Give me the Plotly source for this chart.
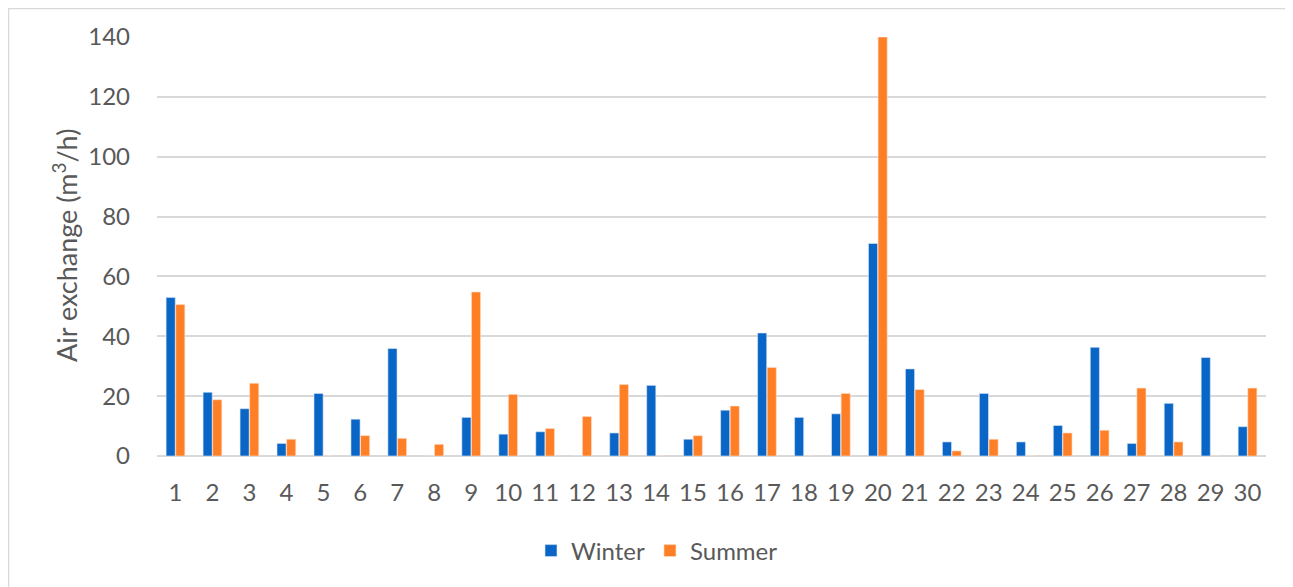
import plotly.graph_objects as go

categories = [str(i) for i in range(1, 31)]
winter = [53, 21.3, 15.8, 4.2, 20.9, 12.3, 35.9, 0, 12.9, 7.3,
          8.1, 0, 7.7, 23.6, 5.6, 15.3, 41.1, 12.9, 14.1, 71,
          29.1, 4.7, 20.9, 4.7, 10.2, 36.3, 4.2, 17.6, 32.9, 9.8]
summer = [50.6, 18.8, 24.3, 5.6, 0, 6.8, 5.9, 3.9, 54.8, 20.6,
          9.2, 13.2, 23.9, 0, 6.8, 16.7, 29.6, 0, 20.9, 140,
          22.2, 1.7, 5.6, 0, 7.7, 8.6, 22.7, 4.7, 0, 22.7]
y_ticks = [0, 20, 40, 60, 80, 100, 120, 140]

FONT = "Lato"
GRAY = "#595959"

fig = go.Figure()
fig.add_trace(go.Bar(x=categories, y=winter, name="Winter",
                     marker=dict(color="#0A66C6", line=dict(color="#DCE8F7", width=0.6))))
fig.add_trace(go.Bar(x=categories, y=summer, name="Summer",
                     marker=dict(color="#FF7F27", line=dict(color="#FBE3D0", width=0.6))))

# page body has an 8px margin, so the figure is drawn 8px in from the window
OFF = 8
W, H = 1293 - OFF, 587 - OFF
L, R, T, B = 157 - OFF, 27, 37 - OFF, 131
pw, ph = W - L - R, H - T - B

def px_x(p):
    return (p - OFF - L) / pw

def px_y(p):
    return (H - B - (p - OFF)) / ph

fig.update_layout(
    width=W, height=H,
    margin=dict(l=L, r=R, t=T, b=B),
    paper_bgcolor="white", plot_bgcolor="white",
    barmode="group", bargap=0.48, bargroupgap=0.05,
    font=dict(family=FONT, color=GRAY, size=24),
    legend=dict(orientation="h", x=px_x(657), xanchor="center",
                y=px_y(551), yanchor="middle", font=dict(size=24, color=GRAY),
                itemwidth=30, traceorder="normal"),
    xaxis=dict(type="category", showgrid=False, showline=False, ticks="",
               tickfont=dict(size=24, color=GRAY), ticklabelstandoff=20),
    yaxis=dict(range=[0, 140], tickvals=y_ticks, showgrid=True,
               gridcolor="#D9D9D9", gridwidth=1.5, zeroline=True,
               zerolinecolor="#D9D9D9", zerolinewidth=1.5, showline=False,
               ticks="", tickfont=dict(size=24, color=GRAY), ticklabelstandoff=26),
    annotations=[dict(text="Air exchange (m<sup>3</sup>/h)", textangle=-90,
                      xref="paper", yref="paper", x=px_x(65), y=px_y(246),
                      xanchor="center", yanchor="middle", showarrow=False,
                      font=dict(size=27, color=GRAY, family=FONT))],
    shapes=[dict(type="rect", xref="paper", yref="paper",
                 x0=px_x(8.5), x1=px_x(1320), y0=px_y(620), y1=px_y(8.5),
                 line=dict(color="#D9D9D9", width=1.5), layer="below")],
)

fig.write_html("out.html")
